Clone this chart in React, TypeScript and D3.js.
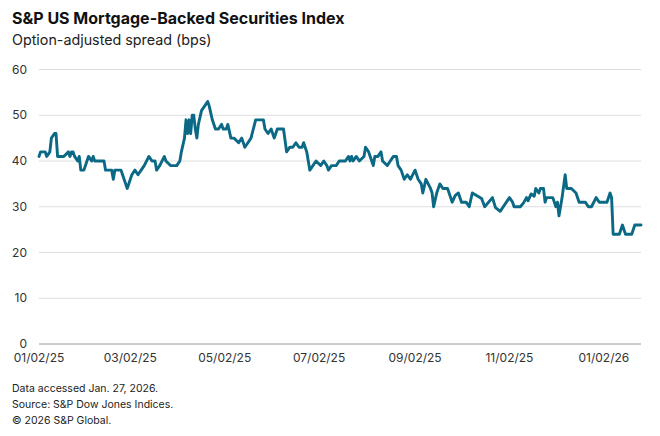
import * as d3 from "d3";

const dates = [
  "2025-01-02", "2025-01-03", "2025-01-06", "2025-01-07", "2025-01-09", "2025-01-10", "2025-01-12", "2025-01-13",
  "2025-01-14", "2025-01-18", "2025-01-21", "2025-01-22", "2025-01-23", "2025-01-24", "2025-01-25", "2025-01-27",
  "2025-01-28", "2025-01-29", "2025-01-31", "2025-02-02", "2025-02-03", "2025-02-05", "2025-02-06", "2025-02-07",
  "2025-02-13", "2025-02-14", "2025-02-18", "2025-02-19", "2025-02-20", "2025-02-24", "2025-02-25", "2025-02-27",
  "2025-02-28", "2025-03-01", "2025-03-03", "2025-03-05", "2025-03-07", "2025-03-09", "2025-03-11", "2025-03-14",
  "2025-03-16", "2025-03-18", "2025-03-19", "2025-03-21", "2025-03-24", "2025-03-25", "2025-03-28", "2025-04-01",
  "2025-04-03", "2025-04-04", "2025-04-06", "2025-04-07", "2025-04-08", "2025-04-09", "2025-04-10", "2025-04-11",
  "2025-04-12", "2025-04-13", "2025-04-14", "2025-04-15", "2025-04-17", "2025-04-19", "2025-04-21", "2025-04-22",
  "2025-04-24", "2025-04-26", "2025-04-28", "2025-04-30", "2025-05-01", "2025-05-03", "2025-05-04", "2025-05-06",
  "2025-05-08", "2025-05-11", "2025-05-13", "2025-05-15", "2025-05-17", "2025-05-19", "2025-05-22", "2025-05-27",
  "2025-05-28", "2025-05-30", "2025-06-01", "2025-06-03", "2025-06-05", "2025-06-09", "2025-06-11", "2025-06-13",
  "2025-06-15", "2025-06-17", "2025-06-19", "2025-06-21", "2025-06-22", "2025-06-24", "2025-06-26", "2025-06-28",
  "2025-06-30", "2025-07-03", "2025-07-05", "2025-07-07", "2025-07-08", "2025-07-10", "2025-07-13", "2025-07-15",
  "2025-07-17", "2025-07-19", "2025-07-21", "2025-07-22", "2025-07-23", "2025-07-24", "2025-07-26", "2025-07-28",
  "2025-07-31", "2025-08-01", "2025-08-03", "2025-08-04", "2025-08-06", "2025-08-07", "2025-08-09", "2025-08-11",
  "2025-08-12", "2025-08-15", "2025-08-17", "2025-08-19", "2025-08-21", "2025-08-22", "2025-08-24", "2025-08-26",
  "2025-08-28", "2025-08-30", "2025-09-02", "2025-09-04", "2025-09-06", "2025-09-07", "2025-09-09", "2025-09-12",
  "2025-09-13", "2025-09-14", "2025-09-16", "2025-09-18", "2025-09-20", "2025-09-21", "2025-09-23", "2025-09-25",
  "2025-09-26", "2025-09-28", "2025-09-30", "2025-10-02", "2025-10-05", "2025-10-07", "2025-10-09", "2025-10-12",
  "2025-10-15", "2025-10-17", "2025-10-19", "2025-10-22", "2025-10-24", "2025-10-27", "2025-10-29", "2025-10-31",
  "2025-11-02", "2025-11-04", "2025-11-05", "2025-11-09", "2025-11-11", "2025-11-13", "2025-11-14", "2025-11-16",
  "2025-11-18", "2025-11-19", "2025-11-21", "2025-11-22", "2025-11-24", "2025-11-25", "2025-11-26", "2025-11-30",
  "2025-12-02", "2025-12-03", "2025-12-04", "2025-12-06", "2025-12-08", "2025-12-09", "2025-12-12", "2025-12-15",
  "2025-12-17", "2025-12-21", "2025-12-23", "2025-12-25", "2025-12-28", "2025-12-30", "2026-01-04", "2026-01-06",
  "2026-01-07", "2026-01-08", "2026-01-12", "2026-01-14", "2026-01-16", "2026-01-20", "2026-01-22", "2026-01-26",
];

// option-adjusted spread, bps
const spread = [
  41, 42, 42, 41, 42, 45, 46, 46,
  41, 41, 42, 41, 42, 42, 41, 40,
  41, 38, 38, 40, 41, 40, 41, 40,
  40, 38, 38, 36, 38, 38, 37, 35,
  34, 35, 37, 38, 37, 38, 39, 41,
  40, 40, 38, 39, 41, 40, 39, 39,
  40, 42, 45, 49, 46, 49, 46, 50,
  50, 47, 45, 48, 51, 52, 53, 52,
  49, 47, 47, 48, 47, 47, 48, 45,
  45, 44, 45, 43, 44, 45, 49, 49,
  47, 46, 47, 45, 47, 47, 42, 43,
  43, 44, 43, 43, 44, 42, 38, 39,
  40, 39, 40, 39, 38, 39, 39, 40,
  40, 40, 41, 40, 41, 40, 41, 40,
  41, 43, 42, 41, 39, 41, 41, 42,
  40, 39, 40, 41, 41, 39, 38, 36,
  37, 36, 38, 36, 35, 33, 36, 34,
  33, 30, 33, 35, 34, 34, 34, 32,
  31, 32.5, 33, 31, 31, 30, 33, 32.4,
  31.8, 30, 30.8, 32, 29.8, 29, 30, 31,
  32, 31, 30, 30, 30.8, 32, 31.3, 32.8,
  32.3, 34, 33, 34, 34, 31, 32, 32,
  30, 31, 28, 32, 37, 34, 34, 33,
  31, 31, 30, 30, 32, 31, 31, 33,
  32, 24, 24, 26, 24, 24, 26, 26,
];

const yTicks = [0, 10, 20, 30, 40, 50, 60];
const xTicks = ["2025-01-02", "2025-03-02", "2025-05-02", "2025-07-02", "2025-09-02", "2025-11-02", "2026-01-02"];
const footnotes = ["Data accessed Jan. 27, 2026.", "Source: S&P Dow Jones Indices.", "© 2026 S&P Global."];

const W = 660;
const H = 436;
const left = 39;
const right = 641;
const top = 69.5;
const bottom = 344;
const FONT = "Inter, 'Noto Sans', sans-serif";

const parse = d3.timeParse("%Y-%m-%d");
const fmt = d3.timeFormat("%m/%d/%y");

export default function App() {
  const points = dates.map((d, i) => ({ date: parse(d)!, value: spread[i] }));

  const x = d3
    .scaleTime()
    .domain([parse(dates[0])!, parse(dates[dates.length - 1])!])
    .range([left, right]);

  const y = d3.scaleLinear().domain([0, 60]).range([bottom, top]);

  const line = d3
    .line<{ date: Date; value: number }>()
    .x((d) => x(d.date))
    .y((d) => y(d.value));

  return (
    <svg
      width={W}
      height={H}
      style={{ position: "absolute", left: 0, top: 0, background: "#fff" }}
      fontFamily={FONT}
    >
      <text x={12} y={24} fontSize={16} fontWeight={700} fill="#111">
        S&amp;P US Mortgage-Backed Securities Index
      </text>
      <text x={12} y={45} fontSize={14.3} fill="#222">
        Option-adjusted spread (bps)
      </text>

      {/* grid */}
      {yTicks.map((t) => (
        <g key={t}>
          <line
            x1={left}
            x2={right}
            y1={y(t)}
            y2={y(t)}
            stroke={t === 0 ? "#9a9a9a" : "#dedede"}
            strokeWidth={1}
          />
          <text x={27} y={y(t)} dy="0.35em" textAnchor="end" fontSize={12} fill="#333">
            {t}
          </text>
        </g>
      ))}

      {xTicks.map((t) => (
        <text key={t} x={x(parse(t)!)} y={362} textAnchor="middle" fontSize={12} fill="#333">
          {fmt(parse(t)!)}
        </text>
      ))}

      <path
        d={line(points) ?? ""}
        fill="none"
        stroke="#0b6986"
        strokeWidth={2.9}
        strokeLinejoin="round"
        strokeLinecap="round"
      />

      {footnotes.map((f, i) => (
        <text key={f} x={12} y={392 + i * 16} fontSize={10.5} fill="#222">
          {f}
        </text>
      ))}
    </svg>
  );
}
